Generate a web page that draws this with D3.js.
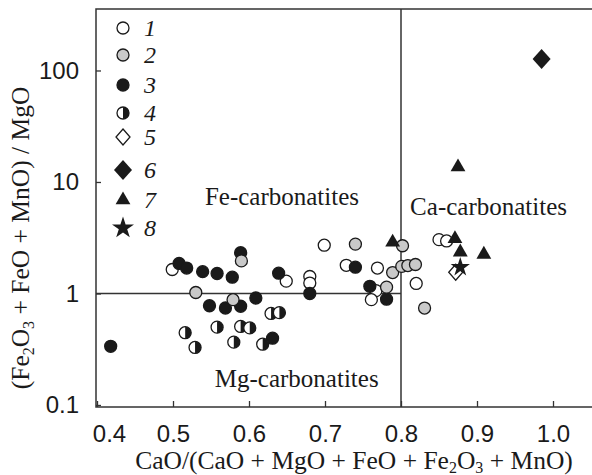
<!DOCTYPE html>
<html>
<head>
<meta charset="utf-8">
<script src="https://cdn.jsdelivr.net/npm/d3@7"></script>
<style>
  body { margin: 0; background: #fff; }
  svg { display: block; font-family: "Liberation Serif", "DejaVu Serif", serif; }
</style>
</head>
<body>
<div id="my-chart"></div>
<script>
// values, [CaO ratio, (Fe2O3+FeO+MnO)/MgO]
const series1 = [[0.499, 1.64], [0.649, 1.29], [0.699, 2.71], [0.680, 1.42], [0.680, 1.24],
  [0.728, 1.79], [0.769, 1.69], [0.820, 1.23], [0.767, 1.06], [0.761, 0.88],
  [0.850, 3.04], [0.860, 2.96]];
const series2 = [[0.590, 1.96], [0.530, 1.02], [0.579, 0.88], [0.740, 2.77], [0.802, 2.68],
  [0.789, 1.54], [0.801, 1.75], [0.809, 1.78], [0.819, 1.82], [0.781, 1.14], [0.831, 0.74]];
const series3 = [[0.418, 0.336], [0.508, 1.86], [0.518, 1.69], [0.539, 1.57], [0.558, 1.51],
  [0.578, 1.40], [0.589, 2.32], [0.639, 1.52], [0.680, 1.00], [0.548, 0.776], [0.569, 0.741],
  [0.589, 0.768], [0.609, 0.911], [0.631, 0.397], [0.740, 1.72], [0.759, 1.16], [0.781, 0.889]];
const series4 = [[0.516, 0.445], [0.529, 0.328], [0.558, 0.499], [0.589, 0.506], [0.601, 0.491],
  [0.580, 0.366], [0.629, 0.662], [0.640, 0.673], [0.618, 0.351]];
const series5 = [[0.872, 1.55]];
const series6 = [[0.985, 127]];
const series7 = [[0.789, 2.88], [0.871, 3.09], [0.878, 2.35], [0.909, 2.24], [0.875, 13.6]];
const series8 = [[0.878, 1.72]];

const legendLabels = ["1", "2", "3", "4", "5", "6", "7", "8"];
const xTicks = [0.4, 0.5, 0.6, 0.7, 0.8, 0.9, 1.0];
const yTicks = [0.1, 1, 10, 100];
const fields = [
  {text: "Fe-carbonatites", x: 0.542, y: 6.2},
  {text: "Ca-carbonatites", x: 0.812, y: 5.1},
  {text: "Mg-carbonatites", x: 0.555, y: 0.145}
];
const boundaryX = 0.8, boundaryY = 1;

const width = 592, height = 475;
const mLeft = 96, mRight = 593, mTop = 9, mBottom = 407;

const x = d3.scaleLinear().domain([0.39868, 1.05263]).range([mLeft, mRight]);
const y = d3.scaleLog().domain([0.0959, 356]).range([mBottom, mTop]);

const svg = d3.select("#my-chart").append("svg")
    .attr("width", width)
    .attr("height", height)
    .attr("viewBox", [0, 0, width, height]);

const ink = "#1a1a1a";

// frame
svg.append("rect")
    .attr("x", mLeft).attr("y", mTop)
    .attr("width", mRight - mLeft).attr("height", mBottom - mTop)
    .attr("fill", "none").attr("stroke", "#333").attr("stroke-width", 1.5);

// x axis, ticks pointing inside
svg.append("g")
    .attr("transform", `translate(0,${mBottom})`)
    .call(d3.axisBottom(x).tickValues(xTicks).tickSize(-6).tickPadding(18).tickFormat(d3.format(".1f")))
    .call(g => g.select(".domain").remove())
    .call(g => g.selectAll(".tick line").attr("stroke", "#333").attr("stroke-width", 1.3))
    .call(g => g.selectAll(".tick text").attr("fill", ink).style("font-size", "24px"))
    .call(g => g.select(".tick text").attr("dx", 12));

// y axis
svg.append("g")
    .attr("transform", `translate(${mLeft},0)`)
    .call(d3.axisLeft(y).tickValues(yTicks).tickSize(-5).tickPadding(17).tickFormat(d => String(d)))
    .call(g => g.select(".domain").remove())
    .call(g => g.selectAll(".tick line").attr("stroke", "#333").attr("stroke-width", 1.3))
    .call(g => g.selectAll(".tick text").attr("fill", ink).style("font-size", "24px"));

// field boundaries
svg.append("line")
    .attr("x1", x(boundaryX)).attr("x2", x(boundaryX))
    .attr("y1", mTop).attr("y2", mBottom)
    .attr("stroke", "#333").attr("stroke-width", 1.5);
svg.append("line")
    .attr("x1", mLeft).attr("x2", x(boundaryX))
    .attr("y1", y(boundaryY)).attr("y2", y(boundaryY))
    .attr("stroke", "#333").attr("stroke-width", 1.5);

// field names
svg.append("g").selectAll("text")
  .data(fields)
  .join("text")
    .attr("x", d => x(d.x))
    .attr("y", d => y(d.y))
    .attr("fill", ink)
    .style("font-size", "25px")
    .text(d => d.text);

// axis titles
const xt = svg.append("text")
    .attr("x", 354).attr("y", 469)
    .attr("text-anchor", "middle")
    .attr("fill", ink)
    .style("font-size", "25.5px");
xt.append("tspan").text("CaO/(CaO + MgO + FeO + Fe");
xt.append("tspan").attr("dy", 4).style("font-size", "16px").text("2");
xt.append("tspan").attr("dy", -4).text("O");
xt.append("tspan").attr("dy", 4).style("font-size", "16px").text("3");
xt.append("tspan").attr("dy", -4).text(" + MnO)");

const yt = svg.append("text")
    .attr("transform", "translate(29,238) rotate(-90)")
    .attr("text-anchor", "middle")
    .attr("fill", ink)
    .style("font-size", "25.5px");
yt.append("tspan").text("(Fe");
yt.append("tspan").attr("dy", 5).style("font-size", "16px").text("2");
yt.append("tspan").attr("dy", -5).text("O");
yt.append("tspan").attr("dy", 5).style("font-size", "16px").text("3");
yt.append("tspan").attr("dy", -5).text(" + FeO + MnO) / MgO");

// marker shapes
const R = 6;
function diamondPath(w, h) {
  return `M0,${-h / 2}L${w / 2},0L0,${h / 2}L${-w / 2},0Z`;
}
const halfArc = d3.arc().innerRadius(0).outerRadius(R).startAngle(0).endAngle(Math.PI);
const tri = d3.symbol(d3.symbolTriangle, 95)();
const starBig = d3.symbol(d3.symbolStar, 150)();
const starSmall = d3.symbol(d3.symbolStar, 115)();

function drawMarker(g, kind, legend) {
  if (kind === 1 || kind === 2 || kind === 3) {
    g.append("circle").attr("r", R)
      .attr("fill", kind === 1 ? "#fff" : kind === 2 ? "#c9c9c9" : ink)
      .attr("stroke", ink).attr("stroke-width", 1.3);
  } else if (kind === 4) {
    g.append("circle").attr("r", R).attr("fill", "#fff").attr("stroke", ink).attr("stroke-width", 1.3);
    g.append("path").attr("d", halfArc()).attr("fill", ink);
  } else if (kind === 5) {
    g.append("path").attr("d", diamondPath(14, 16)).attr("fill", "#fff")
      .attr("stroke", ink).attr("stroke-width", 1.3);
  } else if (kind === 6) {
    g.append("path").attr("d", diamondPath(18, 20)).attr("fill", ink);
  } else if (kind === 7) {
    g.append("path").attr("d", tri).attr("fill", ink);
  } else if (kind === 8) {
    g.append("path").attr("d", legend ? starBig : starSmall).attr("fill", ink);
  }
}

// points, drawn in the overlap order seen in the picture
const layers = [[1, series1], [3, series3], [2, series2], [4, series4],
  [7, series7], [5, series5], [8, series8], [6, series6]];
const plot = svg.append("g");
layers.forEach(([kind, data]) => {
  plot.append("g").selectAll("g")
    .data(data)
    .join("g")
      .attr("transform", d => `translate(${x(d[0])},${y(d[1])})`)
      .each(function() { drawMarker(d3.select(this), kind, false); });
});

// legend
const legendRows = [28, 55, 85, 113, 137, 170, 200, 228];
const legend = svg.append("g");
legendLabels.forEach((lab, i) => {
  const g = legend.append("g").attr("transform", `translate(123,${legendRows[i]})`);
  drawMarker(g, i + 1, true);
  g.append("text")
    .attr("x", 21).attr("dy", "0.35em")
    .attr("fill", ink)
    .style("font-size", "24px").style("font-style", "italic")
    .text(lab);
});
</script>
</body>
</html>
